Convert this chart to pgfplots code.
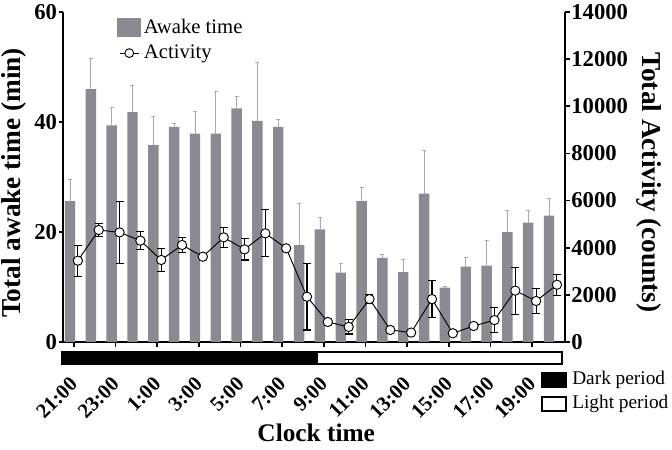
\documentclass[border=0pt]{standalone}
\usepackage{fontspec}
\setmainfont{Liberation Serif}
\usepackage{pgfplots}
\pgfplotsset{compat=1.18}
\usepackage{pgfplotstable}
\definecolor{barcol}{RGB}{139,138,144}
\definecolor{errcol}{RGB}{170,170,174}

\pgfplotstableread{
i val err
0 25.6 4.0
1 46.0 5.5
2 39.4 3.3
3 41.8 4.9
4 35.8 5.2
5 39.1 0.6
6 37.9 4.0
7 37.9 7.6
8 42.5 2.2
9 40.2 10.6
10 39.1 1.3
11 17.6 7.6
12 20.5 2.2
13 12.6 1.7
14 25.6 2.5
15 15.3 0.6
16 12.7 2.3
17 27.0 7.8
18 9.9 0.2
19 13.7 1.6
20 13.9 4.6
21 20.0 4.0
22 21.7 2.2
23 23.0 3.1
}\awake

\pgfplotstableread{
i val err
0 3450 660
1 4750 280
2 4650 1300
3 4300 370
4 3480 480
5 4115 300
6 3620 0
7 4440 420
8 3930 450
9 4610 1000
10 3975 0
11 1920 1410
12 850 0
13 640 300
14 1820 200
15 510 0
16 400 0
17 1820 800
18 370 0
19 680 0
20 930 530
21 2180 1000
22 1740 530
23 2430 440
}\activity

\pgfplotsset{
  common/.style={
    at={(0,0)}, anchor=south west,
    scale only axis, width=376.3pt, height=247.5pt,
    xmin=-0.51, xmax=23.58,
    tick align=outside, major tick length=3.5pt,
    axis line style={line width=1.5pt, -},
    tick style={line width=1.3pt, black},
    /pgf/number format/assume math mode=true,
    /pgf/number format/set thousands separator={},
    scaled y ticks=false,
    yticklabel style={font=\bfseries\fontsize{17}{20}\selectfont, inner sep=1pt},
  }
}

\begin{document}
\begin{tikzpicture}
\useasboundingbox (-47.5pt,-81pt) rectangle (456.5pt,256.5pt);
\begin{axis}[common,
  ymin=0, ymax=60,
  axis x line*=bottom, axis y line*=left,
  ytick={0,20,40,60},
  xtick={0,2,...,22},
  xticklabels={21:00,23:00,1:00,3:00,5:00,7:00,9:00,11:00,13:00,15:00,17:00,19:00},
  xticklabel style={font=\bfseries\fontsize{15.5}{18}\selectfont, xshift=0pt, rotate=45, anchor=east, inner sep=0pt},
  xticklabel shift=25.5pt,
  xlabel={Clock time},
  xlabel style={font=\bfseries\fontsize{19}{22}\selectfont, at={(axis description cs:0.504,-0.276)}, anchor=center},
  ylabel={Total awake time (min)},
  ylabel style={font=\bfseries\fontsize{20.5}{24}\selectfont, at={(axis description cs:-0.098,0.482)}, anchor=center},
  legend style={at={(axis description cs:0.099,0.994)}, anchor=north west, draw=none, fill=none,
    font=\fontsize{15.5}{18}\selectfont, row sep=3pt,
    nodes={inner sep=2pt}},
  legend cell align=left,
]
\addplot[ybar, bar width=0.5, fill=barcol, draw=none,
  legend image code/.code={\fill[barcol] (0pt,-7pt) rectangle (18pt,7pt);},
  error bars/.cd, y dir=plus, y explicit,
  error bar style={errcol, line width=0.6pt},
  error mark options={errcol, rotate=90, mark size=1.5pt, line width=0.6pt}]
  table[x expr=\thisrow{i}-0.19, y=val, y error=err]{\awake};
\addlegendentry{Awake time}
\addlegendimage{legend image code/.code={\draw[black, line width=0.7pt] (2pt,0pt) -- (16pt,0pt); \draw[black, fill=white, line width=0.7pt] (9pt,0pt) circle (3.3pt);}}
\addlegendentry{Activity}
\end{axis}

\begin{axis}[common,
  ymin=0, ymax=14000,
  axis x line=none, axis y line*=right,
  ytick={0,2000,...,14000},
  ylabel={Total Activity (counts)},
  ylabel style={font=\bfseries\fontsize{20.5}{24}\selectfont, rotate=180, at={(axis description cs:1.168,0.483)}, anchor=center},
]
\addplot[black, line width=0.7pt, mark=*, mark size=3.5pt,
  mark options={fill=white, draw=black, line width=0.7pt},
  error bars/.cd, y dir=both, y explicit,
  error bar style={black, line width=0.8pt},
  error mark options={black, rotate=90, mark size=3pt, line width=0.8pt}]
  table[x expr=\thisrow{i}+0.19, y=val, y error=err]{\activity};
\end{axis}

% dark / light period bar
\draw[line width=1pt, fill=black] (-1.2pt,-7.5pt) rectangle (190.3pt,-16.5pt);
\draw[line width=1pt, fill=white] (190.3pt,-7.5pt) rectangle (373.9pt,-16.5pt);
% period legend
\draw[line width=0.8pt, fill=black] (359pt,-23.25pt) rectangle (377pt,-33.75pt);
\draw[line width=0.8pt, fill=white] (359pt,-41.25pt) rectangle (377pt,-51.75pt);
\node[anchor=west, inner sep=0pt, font=\fontsize{14.5}{17}\selectfont] at (381.5pt,-28.5pt) {Dark period};
\node[anchor=west, inner sep=0pt, font=\fontsize{14.5}{17}\selectfont] at (381.5pt,-46.5pt) {Light period};
\end{tikzpicture}
\end{document}
